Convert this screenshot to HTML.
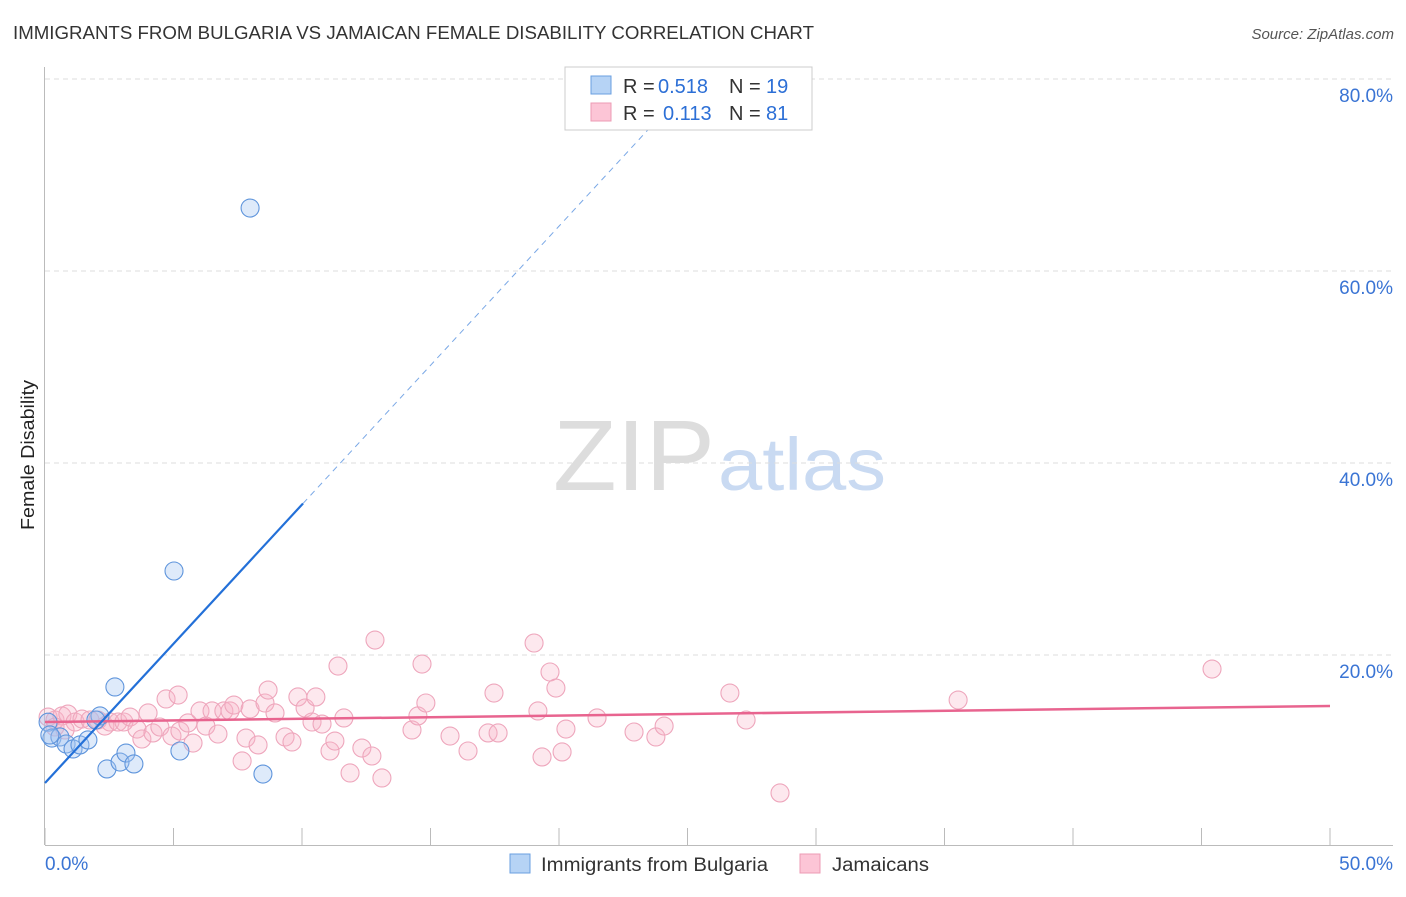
<!DOCTYPE html>
<html><head><meta charset="utf-8"><style>
body{margin:0;background:#fff;font-family:"Liberation Sans",sans-serif;}
svg text{font-family:"Liberation Sans",sans-serif;}
</style></head><body>
<svg width="1406" height="892" id="c">
<text x="13" y="39" font-size="18" fill="#333" textLength="801" lengthAdjust="spacingAndGlyphs">IMMIGRANTS FROM BULGARIA VS JAMAICAN FEMALE DISABILITY CORRELATION CHART</text>
<text x="1394" y="39" font-size="15" fill="#555" font-style="italic" text-anchor="end">Source: ZipAtlas.com</text>
<g>
<text x="553" y="490" font-size="100" fill="#ddd" font-family="Liberation Serif, serif" textLength="162" lengthAdjust="spacingAndGlyphs">ZIP</text>
<text x="718" y="490" font-size="74" fill="#c9daf2" textLength="168" lengthAdjust="spacingAndGlyphs">atlas</text>
</g>
<g id="grid"></g>
<g id="axes"></g>
<g id="marks"></g>
<text x="34" y="455" font-size="18" fill="#222" transform="rotate(-90 34 455)" text-anchor="middle" textLength="150" lengthAdjust="spacingAndGlyphs">Female Disability</text>
<g>
<rect x="565" y="67" width="247" height="63" fill="#fff" stroke="#ccc"/>
<rect x="591" y="76" width="20" height="18" fill="#b6d3f5" stroke="#6a9fe0"/>
<rect x="591" y="103" width="20" height="18" fill="#fcc5d6" stroke="#ec9bb4"/>
<text x="623" y="93" font-size="20" fill="#333">R =</text>
<text x="658" y="93" font-size="20" fill="#2c6fd6">0.518</text>
<text x="729" y="93" font-size="20" fill="#333">N =</text>
<text x="766" y="93" font-size="20" fill="#2c6fd6">19</text>
<text x="623" y="120" font-size="20" fill="#333">R =</text>
<text x="663" y="120" font-size="20" fill="#2c6fd6">0.113</text>
<text x="729" y="120" font-size="20" fill="#333">N =</text>
<text x="766" y="120" font-size="20" fill="#2c6fd6">81</text>
</g>
<g>
<rect x="510" y="854" width="20" height="19" fill="#b6d3f5" stroke="#6a9fe0"/>
<text x="541" y="871" font-size="19" fill="#333" textLength="227" lengthAdjust="spacingAndGlyphs">Immigrants from Bulgaria</text>
<rect x="800" y="854" width="20" height="19" fill="#fcc5d6" stroke="#ec9bb4"/>
<text x="832" y="871" font-size="19" fill="#333" textLength="97" lengthAdjust="spacingAndGlyphs">Jamaicans</text>
</g>
</svg>
<script>
const yTicks=[20,40,60,80];
const yTickLabels=["20.0%","40.0%","60.0%","80.0%"];
const xTickLabels=["0.0%","50.0%"];
const blueX=[0.12,0.27,0.58,0.82,1.09,1.36,1.67,2.14,1.98,2.41,2.72,2.92,3.15,3.46,5.02,5.25,7.98,8.48,0.19];
const blueY=[13.0,11.35,11.46,10.73,10.21,10.63,11.15,13.65,13.23,8.13,16.67,8.85,9.79,8.65,28.75,10.0,66.56,7.6,11.67];
const pinkX=[0.12,0.39,0.66,0.89,1.17,1.44,1.75,2.06,2.33,2.53,2.84,3.07,3.31,3.58,3.77,4.01,4.20,4.47,4.71,4.94,5.18,5.25,5.56,5.76,6.03,6.26,6.50,6.73,6.96,7.20,7.35,7.67,7.82,7.98,8.29,8.56,8.68,8.95,9.34,9.61,9.84,10.12,10.39,10.54,10.78,11.09,11.28,11.40,11.63,11.87,12.33,12.72,12.84,13.11,14.28,14.51,14.67,14.82,15.76,16.46,17.24,17.47,17.63,19.03,19.18,19.34,19.65,19.88,20.12,20.27,21.48,22.92,23.77,24.09,26.65,27.28,28.60,35.53,45.41,0.39,0.78];
const pinkY=[13.54,13.23,13.65,13.85,13.02,13.33,13.23,13.23,12.6,13.02,13.02,13.02,13.54,12.29,11.25,13.96,11.88,12.5,15.42,11.56,15.83,12.08,12.92,10.83,14.17,12.6,14.17,11.77,14.17,14.17,14.79,8.96,11.35,14.38,10.63,15.0,16.35,13.96,11.46,10.94,15.63,14.48,13.02,15.63,12.81,10.0,11.04,18.85,13.44,7.71,10.31,9.48,21.56,7.19,12.19,13.65,19.06,15.0,11.56,10.0,11.88,16.04,11.88,21.25,14.17,9.38,18.23,16.56,9.9,12.29,13.44,11.98,11.46,12.6,16.04,13.23,5.63,15.31,18.54,12.5,12.19];
const blueTrend=[6.67,2.9];
const pinkTrend=[13.02,0.0334];
const NS="http://www.w3.org/2000/svg";
const X=v=>45+v*25.7, Y=v=>847-v*9.6;
function mk(tag,attrs,parent){const e=document.createElementNS(NS,tag);for(const k in attrs)e.setAttribute(k,attrs[k]);document.getElementById(parent).appendChild(e);return e;}
yTicks.forEach((t,i)=>{
 const g=mk('line',{x1:45,x2:1393,y1:Y(t),y2:Y(t),stroke:'#ddd','stroke-dasharray':'5,4'},'grid');
 
 
 const l=mk('text',{x:1393,y:Y(t)+23,'font-size':19,fill:'#3a74d4','text-anchor':'end'},'grid');
 l.textContent=yTickLabels[i];
 
 
});
const ax=mk('line',{x1:44.5,x2:44.5,y1:67,y2:845,stroke:'#bbb'},'axes');


const bx=mk('line',{x1:45,x2:1393,y1:845.5,y2:845.5,stroke:'#bbb'},'axes');


for(let v=0;v<=50;v+=5){const t=mk('line',{x1:X(v),x2:X(v),y1:828,y2:845,stroke:'#bbb'},'axes');
 
 }
[[0,'start',45],[50,'end',1393]].forEach((a,i)=>{const t=mk('text',{x:a[2],y:870,'font-size':19,fill:'#3a74d4','text-anchor':a[1]},'axes');t.textContent=xTickLabels[i];
 
 });
pinkX.forEach((x,i)=>{const c=mk('circle',{cx:X(x),cy:Y(pinkY[i]),r:9,fill:'rgba(248,180,200,0.3)',stroke:'#eea6bc','stroke-width':1.1},'marks');
 
 });
blueX.forEach((x,i)=>{const c=mk('circle',{cx:X(x),cy:Y(blueY[i]),r:9,fill:'rgba(160,196,240,0.35)',stroke:'#5f95dc','stroke-width':1.1},'marks');
 
 });
const pl=mk('line',{x1:X(0),y1:Y(pinkTrend[0]),x2:X(50),y2:Y(pinkTrend[0]+pinkTrend[1]*50),stroke:'#e8648f','stroke-width':2.5},'marks');


const bl=mk('line',{x1:X(0),y1:Y(blueTrend[0]),x2:X(10.04),y2:Y(blueTrend[0]+blueTrend[1]*10.04),stroke:'#2370d8','stroke-width':2.2},'marks');


const xEnd=(80.5-blueTrend[0])/blueTrend[1];
const bd=mk('line',{x1:X(10.04),y1:Y(blueTrend[0]+blueTrend[1]*10.04),x2:X(xEnd),y2:Y(blueTrend[0]+blueTrend[1]*xEnd),stroke:'#7aa8e6','stroke-width':1,'stroke-dasharray':'6,5'},'marks');


</script>
</body></html>
